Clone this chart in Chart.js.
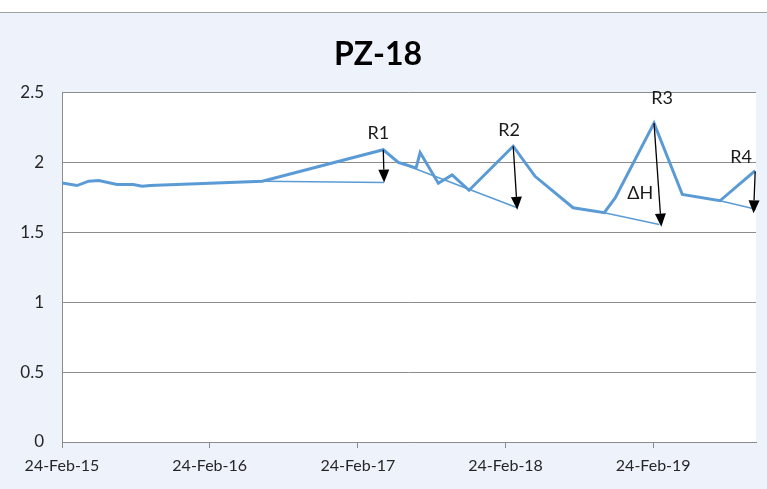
<!DOCTYPE html>
<html>
<head>
<meta charset="utf-8">
<title>PZ-18</title>
<script src="https://cdn.jsdelivr.net/npm/chart.js@4.4.1/dist/chart.umd.min.js"></script>
<style>
  html, body { margin: 0; padding: 0; background: #ffffff; }
  #wrap { width: 767px; height: 489px; }
</style>
</head>
<body>
<div id="wrap"><canvas id="pz18" width="767" height="489"></canvas></div>
<script>
// ---- Data ----
const startDate = '2015-02-24';
const axisEndDate = '2019-11-05';

const levelDates = ['2015-02-24', '2015-04-02', '2015-05-01', '2015-05-26', '2015-07-10', '2015-08-19',
  '2015-09-10', '2015-09-30', '2016-07-03', '2017-04-28', '2017-06-04', '2017-07-18', '2017-07-28',
  '2017-09-11', '2017-10-15', '2017-11-26', '2018-03-15', '2018-05-08', '2018-08-10', '2018-10-26',
  '2018-11-22', '2019-02-26', '2019-05-07', '2019-08-08', '2019-11-03'];
const levelValues = [1.853, 1.834, 1.865, 1.87, 1.841, 1.841, 1.829, 1.834, 1.865, 2.09, 2.0, 1.96, 2.07,
  1.85, 1.91, 1.8, 2.115, 1.9, 1.675, 1.64, 1.745, 2.28, 1.77, 1.725, 1.94];

// recession (thin) lines, one pair of points each
const recessionDates = [
  ['2016-07-03', '2017-04-30'],
  ['2017-06-04', '2018-03-25'],
  ['2018-10-26', '2019-03-11'],
  ['2019-08-08', '2019-11-05']
];
const recessionValues = [
  [1.865, 1.855],
  [2.0, 1.675],
  [1.64, 1.555],
  [1.725, 1.665]
];

// rise arrows: peak -> recession line
const arrowFromDates = ['2017-04-28', '2018-03-15', '2019-02-26', '2019-11-03'];
const arrowFromValues = [2.09, 2.115, 2.28, 1.935];
const arrowToDates = ['2017-04-30', '2018-03-25', '2019-03-16', '2019-10-30'];
const arrowToValues = [1.855, 1.66, 1.54, 1.635];

const noteTexts = ['R1', 'R2', 'R3', 'R4', 'ΔH'];
const noteDates = ['2017-04-16', '2018-03-05', '2019-03-18', '2019-09-29', '2019-01-23'];
const noteValues = [2.21, 2.23, 2.46, 2.04, 1.78];

const tickDates = ['2015-02-24', '2016-02-24', '2017-02-24', '2018-02-24', '2019-02-24'];
const tickLabels = ['24-Feb-15', '24-Feb-16', '24-Feb-17', '24-Feb-18', '24-Feb-19'];

// ---- helpers ----
function dayOf(s) {
  const p = s.split('-').map(Number);
  const b = startDate.split('-').map(Number);
  return (Date.UTC(p[0], p[1] - 1, p[2]) - Date.UTC(b[0], b[1] - 1, b[2])) / 86400000;
}
const toPoints = (dates, vals) => dates.map((d, i) => ({ x: dayOf(d), y: vals[i] }));

const blue = '#5b9bd5';
const axisGrey = '#8c8c8c';
const font = 'Lato, "Liberation Sans", sans-serif';

const datasets = [{
  label: 'PZ-18',
  data: toPoints(levelDates, levelValues),
  borderColor: blue,
  borderWidth: 3,
  pointRadius: 0,
  tension: 0
}];
recessionDates.forEach((d, i) => {
  datasets.push({
    label: 'recession ' + (i + 1),
    data: toPoints(d, recessionValues[i]),
    borderColor: blue,
    borderWidth: 1.5,
    pointRadius: 0,
    tension: 0
  });
});

// ---- plugins ----
const backdrop = {
  id: 'backdrop',
  beforeDraw(chart) {
    const { ctx, width, height, chartArea } = chart;
    ctx.save();
    ctx.fillStyle = '#eef3fb';
    ctx.fillRect(0, 0, width, height);
    ctx.fillStyle = '#ffffff';
    ctx.fillRect(0, 0, width, 12);
    ctx.fillStyle = '#a0a0a0';
    ctx.fillRect(0, 12, width, 1);
    ctx.fillStyle = '#ffffff';
    ctx.fillRect(chartArea.left, chartArea.top, chartArea.right - chartArea.left, chartArea.bottom - chartArea.top);
    ctx.restore();
  }
};

const arrowsAndNotes = {
  id: 'arrowsAndNotes',
  afterDatasetsDraw(chart) {
    const { ctx, scales: { x, y } } = chart;
    ctx.save();
    ctx.strokeStyle = '#000000';
    ctx.fillStyle = '#000000';
    ctx.lineWidth = 1.3;
    arrowFromDates.forEach((d, i) => {
      const x0 = x.getPixelForValue(dayOf(d)), y0 = y.getPixelForValue(arrowFromValues[i]);
      const x1 = x.getPixelForValue(dayOf(arrowToDates[i])), y1 = y.getPixelForValue(arrowToValues[i]);
      const ang = Math.atan2(y1 - y0, x1 - x0);
      const headLen = 13, headHalf = 5.5;
      const bx = x1 - headLen * Math.cos(ang), by = y1 - headLen * Math.sin(ang);
      ctx.beginPath();
      ctx.moveTo(x0, y0);
      ctx.lineTo(bx, by);
      ctx.stroke();
      ctx.beginPath();
      ctx.moveTo(x1, y1);
      ctx.lineTo(bx + headHalf * Math.sin(ang), by - headHalf * Math.cos(ang));
      ctx.lineTo(bx - headHalf * Math.sin(ang), by + headHalf * Math.cos(ang));
      ctx.closePath();
      ctx.fill();
    });
    ctx.font = '18px ' + font;
    ctx.textAlign = 'center';
    ctx.textBaseline = 'middle';
    ctx.fillStyle = '#1a1a1a';
    noteTexts.forEach((t, i) => {
      ctx.fillText(t, x.getPixelForValue(dayOf(noteDates[i])), y.getPixelForValue(noteValues[i]));
    });
    ctx.restore();
  }
};

new Chart(document.getElementById('pz18'), {
  type: 'line',
  data: { datasets },
  options: {
    responsive: false,
    animation: false,
    layout: { padding: { left: 0, right: 11, top: 25, bottom: 0 } },
    plugins: {
      legend: { display: false },
      tooltip: { enabled: false },
      title: {
        display: true,
        text: 'PZ-18',
        color: '#000000',
        font: { family: font, size: 32, weight: 'bold' },
        padding: { top: 10, bottom: 19 }
      }
    },
    scales: {
      x: {
        type: 'linear',
        min: 0,
        max: dayOf(axisEndDate),
        afterBuildTicks: (scale) => { scale.ticks = tickDates.map(d => ({ value: dayOf(d) })); },
        afterFit: (scale) => { scale.height = 47; },
        grid: { drawOnChartArea: false, drawTicks: true, tickLength: 6, color: axisGrey },
        border: { color: axisGrey, width: 1 },
        ticks: {
          color: '#262626',
          font: { family: font, size: 16 },
          padding: 8,
          maxRotation: 0,
          autoSkip: false,
          callback: (v, i) => tickLabels[i]
        }
      },
      y: {
        min: 0,
        max: 2.5,
        afterFit: (scale) => { scale.width = 62; },
        grid: { color: axisGrey, drawTicks: false },
        border: { color: axisGrey, width: 1 },
        ticks: {
          stepSize: 0.5,
          color: '#262626',
          font: { family: font, size: 17 },
          padding: 18,
          callback: (v) => String(v)
        }
      }
    }
  },
  plugins: [backdrop, arrowsAndNotes]
});
</script>
</body>
</html>
